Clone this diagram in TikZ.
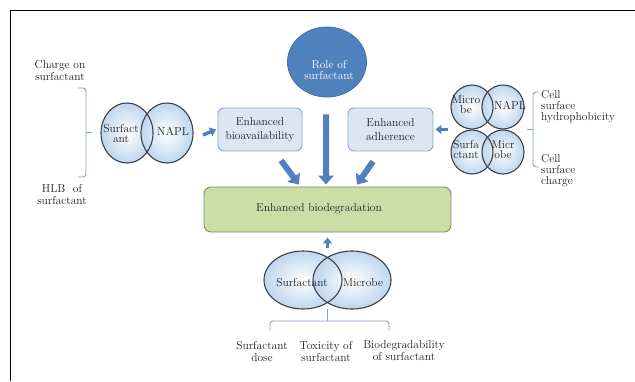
\documentclass[tikz,border=0pt]{standalone}
\usetikzlibrary{arrows.meta,shapes.geometric,calc}
\definecolor{arrowblue}{RGB}{79,129,189}
\definecolor{rolefill}{RGB}{79,129,189}
\definecolor{roleedge}{RGB}{65,113,170}
\definecolor{boxfill}{RGB}{220,230,242}
\definecolor{boxedge}{RGB}{140,165,195}
\definecolor{greenfill}{RGB}{204,221,166}
\definecolor{greenedge}{RGB}{125,138,110}
\definecolor{bracecol}{RGB}{130,160,192}
\definecolor{vennblue}{RGB}{190,214,238}
\definecolor{venngray}{RGB}{60,64,70}
\definecolor{textcol}{RGB}{30,30,30}
\begin{document}
\begin{tikzpicture}[x=1bp,y=-1bp,
  font=\fontsize{11.5bp}{12bp}\selectfont,
  lbl/.style={align=center,inner sep=0pt,text=textcol},
  lbll/.style={align=left,inner sep=0pt,text=textcol,anchor=west},
  bluebox/.style={draw=boxedge,fill=boxfill,line width=0.9bp,rounded corners=6bp,inner sep=0pt,
    align=center,text=textcol,font=\fontsize{11.5bp}{14bp}\selectfont},
  vennA/.style={ellipse,inner sep=0pt,outer sep=0pt,minimum width=52bp,minimum height=60bp},
  vennB/.style={ellipse,inner sep=0pt,outer sep=0pt,minimum width=42bp,minimum height=44bp},
  vennC/.style={ellipse,inner sep=0pt,outer sep=0pt,minimum width=78bp,minimum height=58bp},
  vfill/.style={shade,inner color=white,outer color=vennblue},
  vline/.style={draw=venngray,line width=1.1bp},
  ctext/.style={align=center,inner sep=0pt,text=textcol,font=\fontsize{11.5bp}{10bp}\selectfont},
  bigarrow/.style={draw=arrowblue,line width=6bp,-{Triangle[width=15bp,length=9bp]}},
  smallarrow/.style={draw=arrowblue,line width=3.5bp,-{Triangle[width=9bp,length=6bp]}},
  brace/.style={draw=bracecol,line width=0.9bp,rounded corners=3bp}
]
\useasboundingbox (0,0) rectangle (635,381);
% frame
\draw[line width=1bp,black] (10.5,381) -- (10.5,10.5) -- (635,10.5);

% role ellipse
\node[ellipse,fill=rolefill,draw=roleedge,line width=0.8bp,minimum width=79bp,minimum height=70bp,inner sep=0pt] (role) at (327,62) {};
\node[align=center,inner sep=0pt,text=white,font=\fontsize{11.5bp}{11bp}\selectfont] (rolet) at (329,70) {Role of\\surfactant};

% boxes
\node[bluebox,minimum width=84bp,minimum height=43bp] (bio) at (260,129.5) {Enhanced\\bioavailability};
\node[bluebox,minimum width=85bp,minimum height=43bp] (adh) at (390.5,129.5) {Enhanced\\adherence};
\node[draw=greenedge,fill=greenfill,line width=0.9bp,rounded corners=7bp,minimum width=247bp,minimum height=45bp,inner sep=0pt] (green) at (327.5,209.5) {};
\node[lbl] (greent) at (319,209) {Enhanced biodegradation};

% left venn
\node[vennA,vfill] (l1) at (127,133) {};
\node[vennA,vfill] (l2) at (167,133) {};
\node[vennA,vline] (l1o) at (l1) {};
\node[vennA,vline] (l2o) at (l2) {};
\node[ctext] (l1t) at (121,134) {Surfact\\ant};
\node[ctext] (l2t) at (173,131) {NAPL};

% right venn
\node[vennB,vfill] (r1) at (472,107) {};
\node[vennB,vfill] (r2) at (503,107) {};
\node[vennB,vfill] (r3) at (472,152) {};
\node[vennB,vfill] (r4) at (503,152) {};
\node[vennB,vline] (r1o) at (r1) {};
\node[vennB,vline] (r2o) at (r2) {};
\node[vennB,vline] (r3o) at (r3) {};
\node[vennB,vline] (r4o) at (r4) {};
\node[ctext] (r1t) at (466,105) {Micro\\be};
\node[ctext] (r2t) at (510,105) {NAPL};
\node[ctext] (r3t) at (466,150) {Surfa\\ctant};
\node[ctext] (r4t) at (503,150) {Micr\\obe};

% bottom venn
\node[vennC,vfill] (b1) at (303,280) {};
\node[vennC,vfill] (b2) at (352,280) {};
\node[vennC,vline] (b1o) at (b1) {};
\node[vennC,vline] (b2o) at (b2) {};
\node[lbl] (b1t) at (302,283) {Surfactant};
\node[lbl] (b2t) at (363,283) {Microbe};

% arrows
\draw[bigarrow] ([xshift=21bp,yshift=-9bp]bio.south) -- ([xshift=-28.5bp,yshift=2bp]green.north);
\draw[bigarrow] ([xshift=-1bp,yshift=-17bp]role.south) -- ([xshift=-1.5bp,yshift=2bp]green.north);
\draw[bigarrow] ([xshift=-17.5bp,yshift=-10bp]adh.south) -- ([xshift=29.5bp,yshift=2bp]green.north);
\draw[smallarrow] ([xshift=10bp,yshift=-2bp]l2.east) -- ([xshift=-1.5bp]bio.west);
\coordinate (rmid) at ($(r1.west)!0.5!(r3.west)$);
\draw[smallarrow] ([xshift=-3bp]rmid) -- ([xshift=2bp]adh.east);
\coordinate (bmid) at ($(b1.north)!0.5!(b2.north)$);
\draw[smallarrow] ([yshift=3bp]bmid) -- ([yshift=-5bp]green.south);

% braces
\draw[brace] (78,88) -- (86,88) -- (86,177) -- (78,177);
\draw[bracecol,line width=0.9bp] (86,132) -- (92,132);
\draw[brace] (539,92) -- (533,92) -- (533,167) -- (539,167);
\draw[bracecol,line width=0.9bp] (533,129) -- (527,129);
\draw[brace] (270,331) -- (270,321) -- (389,321) -- (389,331);
\draw[bracecol,line width=0.9bp] (327.5,321) -- (327.5,309);

% side labels
\node[lbl] (t1) at (60,71) {Charge on\\surfactant};
\node[lbl] (t2) at (62,195) {HLB\ \ of\\surfactant};
\node[lbll,font=\fontsize{11.5bp}{11bp}\selectfont] (t3) at (541,107) {Cell\\surface\\hydrophobicity};
\node[lbll,font=\fontsize{11.5bp}{11bp}\selectfont] (t4) at (541,171) {Cell\\surface\\charge};
\node[lbl] (t5) at (262,351) {Surfactant\\dose};
\node[lbl] (t6) at (326,351) {Toxicity of\\surfactant};
\node[lbl] (t7) at (404,351) {Biodegradability\\of surfactant};
\end{tikzpicture}
\end{document}
